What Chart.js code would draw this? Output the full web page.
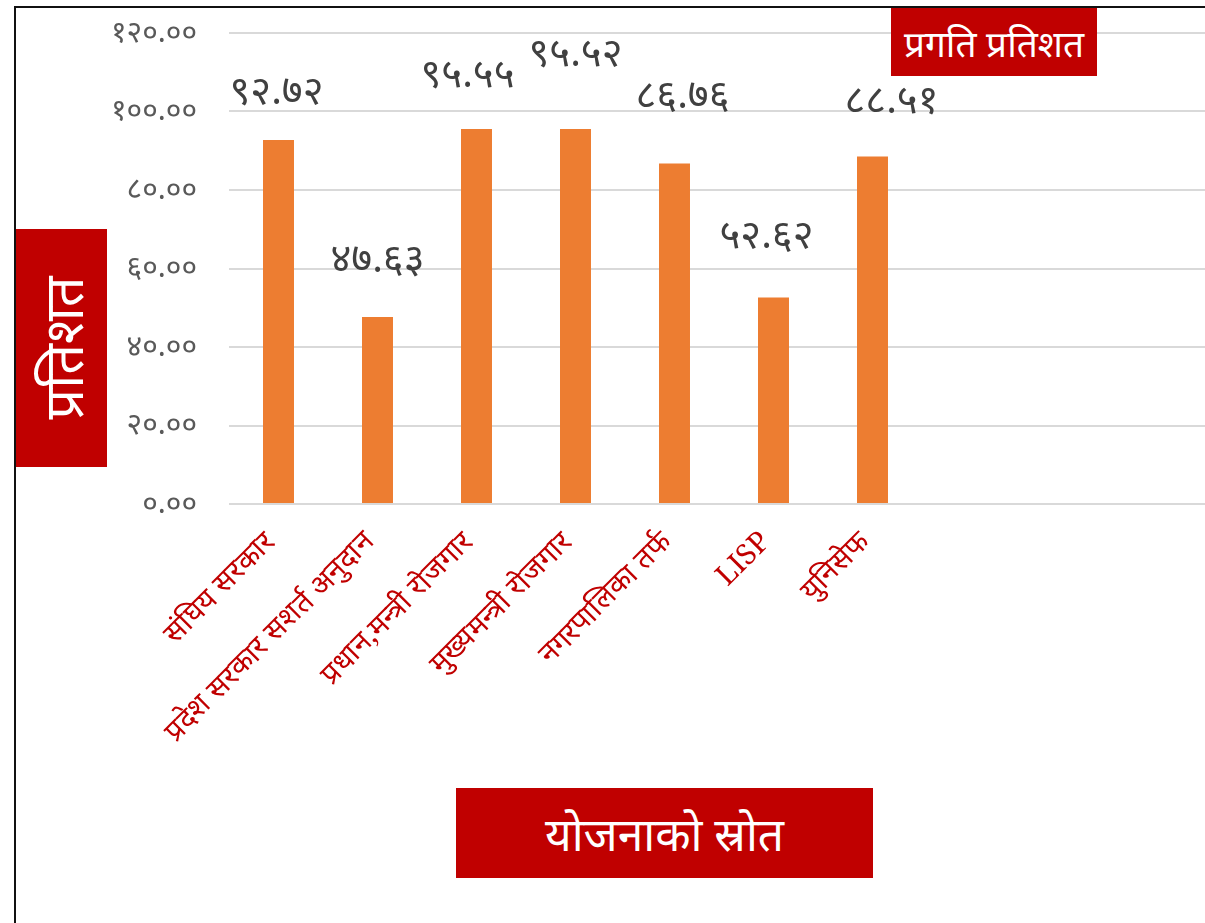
<!DOCTYPE html>
<html>
<head>
<meta charset="utf-8">
<script src="https://cdn.jsdelivr.net/npm/chart.js@4.4.1/dist/chart.umd.min.js"></script>
<style>
  html, body { margin: 0; padding: 0; background: #fff; }
  #wrap { position: relative; width: 1205px; height: 923px; overflow: hidden; background: #fff; }
  #c { position: absolute; left: 0; top: 0; }
  .frameTop { position: absolute; left: 14px; top: 6px; width: 1200px; height: 2px; background: #111; }
  .frameLeft { position: absolute; left: 14px; top: 6px; width: 2px; height: 930px; background: #111; }
  .box { position: absolute; background: #C00000; color: #fff; display: flex; align-items: center; justify-content: center; font-family: "Noto Sans", sans-serif; white-space: nowrap; }
  #ytitle { left: 16px; top: 229px; width: 91px; height: 238px; }
  #ytitle span { display: inline-block; transform: rotate(-90deg); font-size: 54px; }
  #ttitle { left: 891px; top: 8px; width: 206px; height: 68px; font-size: 37px; }
  #xtitle { left: 456px; top: 788px; width: 417px; height: 90px; font-size: 46px; }
</style>
</head>
<body>
<div id="wrap">
  <canvas id="c" width="1222" height="923"></canvas>
  <div class="frameTop"></div>
  <div class="frameLeft"></div>
  <div class="box" id="ttitle">प्रगति प्रतिशत</div>
  <div class="box" id="ytitle"><span>प्रतिशत</span></div>
  <div class="box" id="xtitle">योजनाको स्रोत</div>
</div>
<script>
// ---- data ----
const categories = ["संघिय सरकार", "प्रदेश सरकार सशर्त अनुदान", "प्रधान,मन्त्री रोजगार", "मुख्यमन्त्री रोजगार", "नगरपालिका तर्फ", "LISP", "युनिसेफ", "", "", ""];
const progressValues = [92.72, 47.63, 95.55, 95.52, 86.76, 52.62, 88.51, null, null, null];
const yTicks = [0, 20, 40, 60, 80, 100, 120];

// label placement (pixel offsets from bar top-centre), kept apart from data
const labelDx = [-2, 0, -9, 0, 8, -7, 19];
const labelLift = [47, 56, 53, 74, 67, 61, 55];

const devDigits = "०१२३४५६७८९";
function toDev(s) { return String(s).replace(/[0-9]/g, d => devDigits[+d]); }

const valueLabels = {
  id: 'valueLabels',
  afterDatasetsDraw(chart) {
    const ctx = chart.ctx;
    const meta = chart.getDatasetMeta(0);
    ctx.save();
    ctx.fillStyle = '#404040';
    ctx.font = '40px "Noto Sans", sans-serif';
    ctx.textAlign = 'center';
    ctx.textBaseline = 'middle';
    meta.data.forEach((bar, i) => {
      const v = progressValues[i];
      if (v == null) return;
      ctx.fillText(toDev(v.toFixed(2)), bar.x + labelDx[i], bar.y - labelLift[i]);
    });
    ctx.restore();
  }
};

new Chart(document.getElementById('c'), {
  type: 'bar',
  data: {
    labels: categories,
    datasets: [{
      data: progressValues,
      backgroundColor: '#ED7D31',
      borderWidth: 0,
      barPercentage: 1,
      categoryPercentage: 0.313
    }]
  },
  options: {
    responsive: false,
    animation: false,
    layout: { padding: { left: 0, right: 3, top: 33, bottom: 0 } },
    plugins: { legend: { display: false }, tooltip: { enabled: false }, title: { display: false } },
    scales: {
      y: {
        min: 0, max: 120,
        afterBuildTicks(scale) { scale.ticks = yTicks.map(v => ({ value: v })); },
        afterFit(scale) { scale.width = 229; scale.paddingTop = 0; scale.paddingBottom = 0; },
        border: { display: false },
        grid: { color: '#d9d9d9', lineWidth: 2, drawTicks: false },
        ticks: {
          padding: 32,
          color: '#595959',
          font: { family: '"Noto Sans", sans-serif', size: 30 },
          callback: v => toDev(Number(v).toFixed(2))
        }
      },
      x: {
        afterFit(scale) { scale.height = 419; scale.paddingLeft = 0; scale.paddingRight = 0; },
        border: { display: false },
        grid: { display: false, drawTicks: false },
        ticks: {
          minRotation: 45, maxRotation: 45, autoSkip: false,
          padding: 21,
          labelOffset: -8,
          color: '#C00000',
          font: { family: '"Noto Serif", serif', size: 29 }
        }
      }
    }
  },
  plugins: [valueLabels]
});
</script>
</body>
</html>
